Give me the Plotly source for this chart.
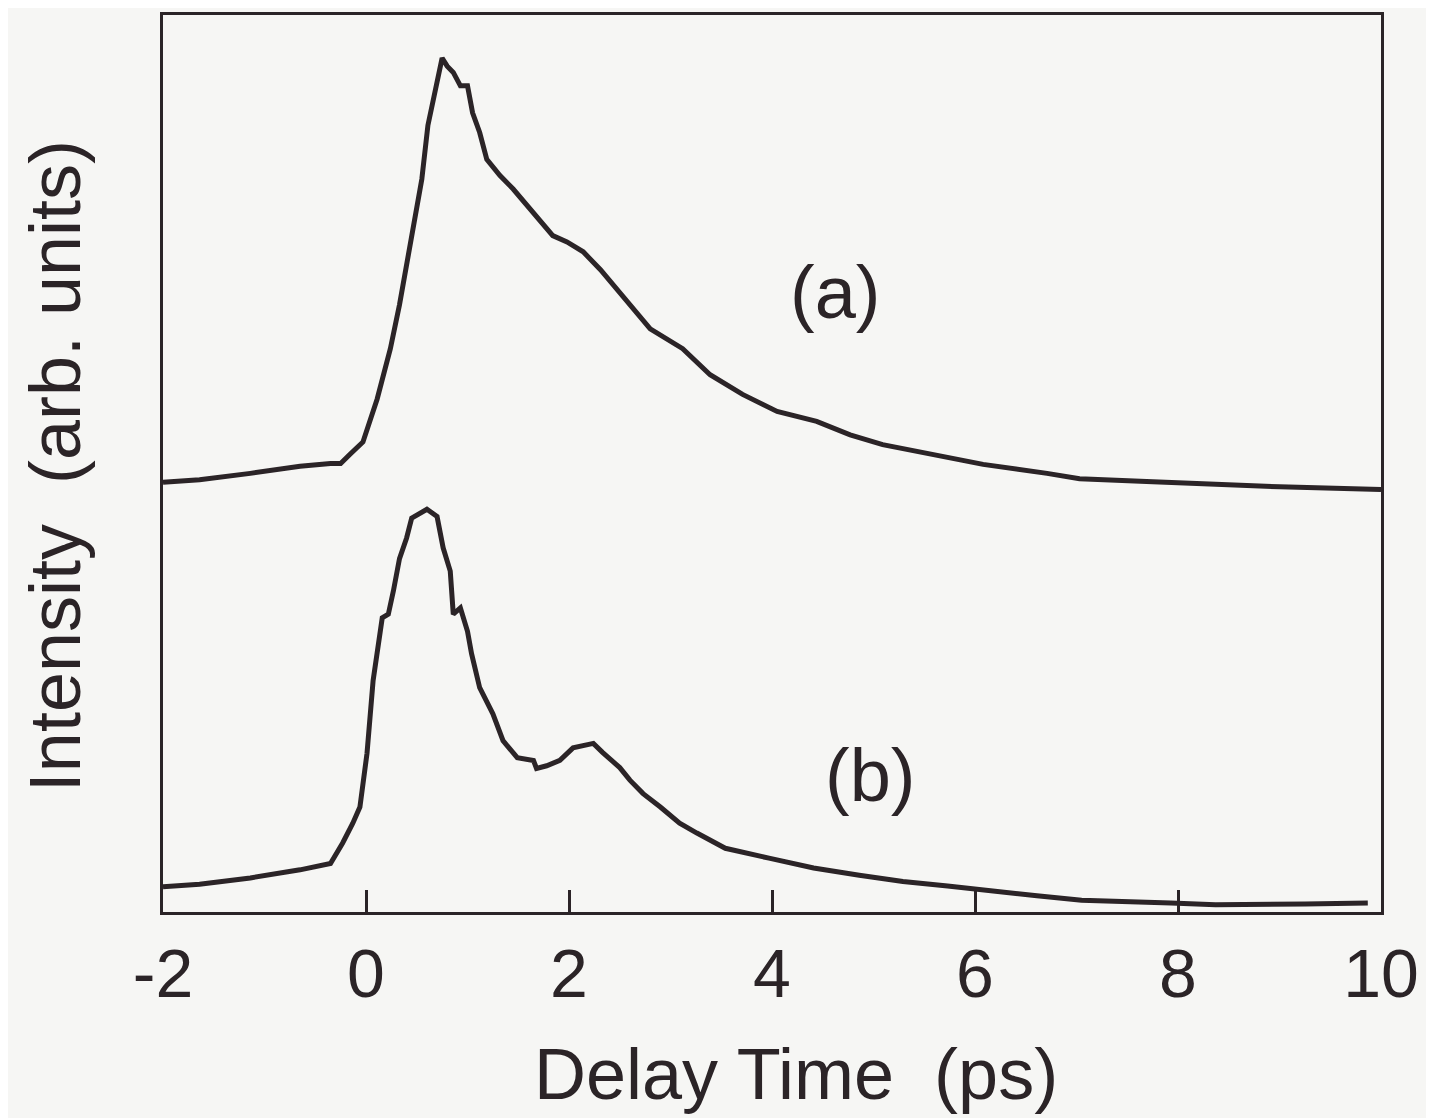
import plotly.graph_objects as go

# Delay time (ps) and intensity (arb. units)
xa = [-2.00, -1.64, -1.14, -0.65, -0.35, -0.25, -0.16, -0.03, 0.11, 0.24, 0.33, 0.40, 0.48, 0.55,
      0.61, 0.65, 0.70, 0.75, 0.80, 0.86, 0.93, 1.00, 1.05, 1.12, 1.19, 1.32, 1.45, 1.59, 1.71,
      1.84, 1.98, 2.14, 2.31, 2.47, 2.80, 3.12, 3.39, 3.71, 4.05, 4.44, 4.77, 5.09, 5.43, 5.75,
      6.08, 6.71, 7.03, 7.69, 8.34, 9.00, 10.00]
ya = [47.9, 48.2, 48.9, 49.7, 50.0, 50.0, 51.0, 52.4, 57.2, 62.8, 67.7, 72.1, 77.2, 81.7,
      87.7, 89.9, 92.8, 95.2, 94.3, 93.6, 92.1, 92.1, 89.1, 86.9, 83.9, 82.1, 80.6, 78.8, 77.2,
      75.4, 74.7, 73.6, 71.6, 69.4, 65.0, 62.8, 59.9, 57.7, 55.8, 54.7, 53.2, 52.1, 51.3, 50.6,
      49.9, 48.9, 48.3, 48.0, 47.7, 47.4, 47.1]

xb = [-2.00, -1.64, -1.14, -0.65, -0.35, -0.23, -0.13, -0.06, 0.01, 0.07, 0.16, 0.22, 0.27, 0.33,
      0.40, 0.45, 0.60, 0.70, 0.76, 0.83, 0.86, 0.93, 1.00, 1.04, 1.12, 1.25, 1.35, 1.49, 1.65,
      1.68, 1.78, 1.91, 2.04, 2.24, 2.33, 2.50, 2.60, 2.73, 2.90, 3.09, 3.26, 3.54, 3.97, 4.41,
      4.86, 5.29, 5.73, 6.17, 6.61, 7.05, 7.49, 7.93, 8.37, 8.81, 9.25, 9.87]
yb = [2.8, 3.1, 3.8, 4.7, 5.4, 7.7, 9.9, 11.7, 17.7, 25.8, 32.8, 33.2, 35.8, 39.4,
      41.7, 43.9, 44.9, 44.1, 40.6, 38.0, 33.2, 33.9, 31.3, 28.8, 25.0, 22.1, 19.1, 17.2, 16.9,
      16.0, 16.3, 16.9, 18.3, 18.8, 17.8, 16.1, 14.7, 13.2, 11.7, 9.9, 8.8, 7.1, 6.0, 4.9,
      4.1, 3.4, 2.9, 2.3, 1.8, 1.3, 1.2, 1.0, 0.8, 0.8, 0.9, 1.0]

tick_vals = [-2, 0, 2, 4, 6, 8, 10]
tick_text = ["-2", "0", "2", "4", "6", "8", "10"]

ink = "#2b2427"
font_fam = "Liberation Sans, Arial, Helvetica, sans-serif"

fig = go.Figure()
fig.add_trace(go.Scatter(x=xa, y=ya, mode="lines", line=dict(color=ink, width=5), showlegend=False))
fig.add_trace(go.Scatter(x=xb, y=yb, mode="lines", line=dict(color=ink, width=5), showlegend=False))

fig.add_annotation(x=4.62, y=69.1, text="(a)", showarrow=False,
                   font=dict(size=74, color=ink, family=font_fam))
fig.add_annotation(x=4.97, y=15.2, text="(b)", showarrow=False,
                   font=dict(size=74, color=ink, family=font_fam))

fig.add_annotation(xref="paper", yref="paper", x=0.52, y=-0.181, text="Delay Time  (ps)",
                   showarrow=False, xanchor="center", yanchor="middle",
                   font=dict(size=72, color=ink, family=font_fam))
fig.add_annotation(xref="paper", yref="paper", x=-0.0887, y=0.497, text="Intensity  (arb. units)",
                   showarrow=False, xanchor="center", yanchor="middle", textangle=-90,
                   font=dict(size=72, color=ink, family=font_fam))

fig.update_layout(
    width=1426, height=1110,
    margin=dict(l=155, r=53, t=4, b=206),
    paper_bgcolor="#f6f6f4", plot_bgcolor="#f6f6f4",
    xaxis=dict(range=[-2, 10], tickvals=tick_vals, ticktext=tick_text,
               ticks="inside", ticklen=22, tickwidth=3, tickcolor=ink,
               showline=True, linecolor=ink, linewidth=3, mirror=True,
               showgrid=False, zeroline=False, ticklabelstandoff=0,
               tickfont=dict(size=68, color=ink, family=font_fam)),
    yaxis=dict(range=[0, 100], showticklabels=False, ticks="",
               showline=True, linecolor=ink, linewidth=3, mirror=True,
               showgrid=False, zeroline=False),
)

fig.write_html("out.html")
